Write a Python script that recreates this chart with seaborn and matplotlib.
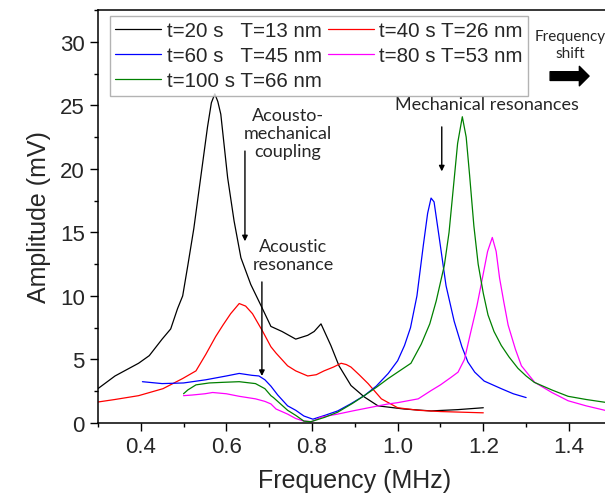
import numpy as np
import pandas as pd
import seaborn as sns
import matplotlib.pyplot as plt
from matplotlib.ticker import MultipleLocator

# values (frequency in MHz, amplitude in mV)
labels = ["t=20 s   T=13 nm", "t=40 s T=26 nm", "t=60 s   T=45 nm",
          "t=80 s T=53 nm", "t=100 s T=66 nm"]
colors = ["black", "#ff0000", "#0000ff", "#ff00ff", "#008000"]

f20 = [0.30, 0.34, 0.395, 0.42, 0.45, 0.47, 0.486, 0.498, 0.51, 0.524, 0.54,
       0.556, 0.565, 0.573, 0.58, 0.587, 0.603, 0.618, 0.634, 0.657, 0.68,
       0.704, 0.73, 0.762, 0.79, 0.805, 0.821, 0.844, 0.863, 0.891, 0.922,
       0.954, 0.978, 1.015, 1.078, 1.14, 1.20]
a20 = [2.7, 3.7, 4.7, 5.3, 6.6, 7.4, 9.0, 10.0, 12.4, 15.3, 19.3,
       23.3, 25.2, 25.9, 25.3, 24.3, 19.3, 15.9, 13.0, 10.9, 9.3,
       7.6, 7.2, 6.6, 6.9, 7.2, 7.8, 6.1, 4.5, 2.95, 2.05,
       1.35, 1.25, 1.1, 0.95, 1.05, 1.2]

f40 = [0.30, 0.34, 0.395, 0.452, 0.498, 0.529, 0.552, 0.575, 0.592, 0.61,
       0.63, 0.645, 0.661, 0.685, 0.704, 0.716, 0.743, 0.762, 0.79, 0.81,
       0.828, 0.85, 0.868, 0.88, 0.891, 0.91, 0.931, 0.962, 1.0, 1.048,
       1.1, 1.15, 1.2]
a40 = [1.65, 1.85, 2.15, 2.7, 3.5, 4.1, 5.4, 6.8, 7.7, 8.6,
       9.4, 9.2, 8.6, 7.2, 6.0, 5.5, 4.5, 4.1, 3.7, 3.8,
       4.1, 4.4, 4.7, 4.6, 4.4, 3.8, 3.1, 1.9, 1.2, 1.0,
       0.9, 0.85, 0.8]

f60 = [0.404, 0.45, 0.50, 0.552, 0.60, 0.63, 0.66, 0.676, 0.69, 0.704,
       0.72, 0.743, 0.762, 0.781, 0.802, 0.83, 0.86, 0.89, 0.922, 0.95,
       0.978, 1.0, 1.016, 1.03, 1.045, 1.06, 1.07, 1.078, 1.085, 1.097,
       1.113, 1.132, 1.15, 1.164, 1.18, 1.202, 1.242, 1.27, 1.30]
a60 = [3.25, 3.1, 3.15, 3.4, 3.7, 3.9, 3.75, 3.7, 3.4, 2.9,
       2.2, 1.35, 1.0, 0.55, 0.3, 0.6, 0.95, 1.5, 2.15, 2.9,
       3.9, 4.9, 6.1, 7.5, 10.0, 14.0, 16.5, 17.7, 17.4, 14.6,
       10.8, 8.0, 6.0, 4.8, 4.0, 3.3, 2.7, 2.3, 2.0]

f80 = [0.50, 0.52, 0.55, 0.568, 0.60, 0.63, 0.668, 0.69, 0.704, 0.716,
       0.743, 0.762, 0.781, 0.80, 0.82, 0.86, 0.895, 0.94, 0.978, 1.0,
       1.048, 1.078, 1.10, 1.125, 1.141, 1.156, 1.171, 1.185, 1.195, 1.21,
       1.221, 1.23, 1.238, 1.248, 1.258, 1.275, 1.289, 1.32, 1.36, 1.398,
       1.44, 1.49]
a80 = [2.15, 2.2, 2.3, 2.4, 2.3, 2.1, 1.9, 1.7, 1.5, 1.1,
       0.7, 0.35, 0.15, 0.1, 0.45, 0.7, 0.95, 1.25, 1.5, 1.6,
       1.9, 2.55, 3.0, 3.6, 4.0, 5.0, 7.2, 9.2, 10.9, 13.5,
       14.6, 13.5, 11.4, 9.5, 7.7, 5.8, 4.5, 3.2, 2.4, 1.75,
       1.35, 0.95]

f100 = [0.50, 0.51, 0.529, 0.56, 0.592, 0.63, 0.668, 0.69, 0.704, 0.71,
        0.743, 0.762, 0.781, 0.797, 0.83, 0.86, 0.895, 0.922, 0.95, 0.978,
        1.0, 1.031, 1.055, 1.075, 1.09, 1.109, 1.12, 1.13, 1.14, 1.151,
        1.16, 1.168, 1.178, 1.188, 1.20, 1.211, 1.225, 1.242, 1.26, 1.281,
        1.30, 1.319, 1.36, 1.398, 1.44, 1.49]
a100 = [2.3, 2.6, 3.0, 3.15, 3.2, 3.25, 3.1, 2.7, 2.15, 2.0,
        1.0, 0.6, 0.15, 0.1, 0.45, 0.85, 1.55, 2.15, 2.8, 3.5,
        4.0, 4.7, 6.2, 7.8, 9.6, 12.4, 15.0, 18.5, 22.0, 24.1,
        22.5, 19.5, 15.5, 12.5, 10.2, 8.5, 7.2, 6.1, 5.2, 4.3,
        3.7, 3.2, 2.6, 2.1, 1.85, 1.6]

freqs = [f20, f40, f60, f80, f100]
amps = [a20, a40, a60, a80, a100]

sns.set_style("ticks")
plt.rcParams['font.family'] = ['Liberation Sans', 'DejaVu Sans']
note_font = ['Lato', 'DejaVu Sans']

fig = plt.figure(figsize=(6.05, 5.02), dpi=100)
ax = fig.add_axes([0.1618, 0.1554, 0.8494, 0.8227])

handles = {}
for lab, col, fx, ay in zip(labels, colors, freqs, amps):
    df = pd.DataFrame({"f": fx, "a": ay})
    sns.lineplot(data=df, x="f", y="a", ax=ax, color=col, lw=0.9,
                 sort=False, estimator=None)
    handles[lab] = ax.lines[-1]

ax.set_xlim(0.3, 1.5)
ax.set_ylim(0, 32.5)
ax.xaxis.set_major_locator(MultipleLocator(0.2))
ax.xaxis.set_minor_locator(MultipleLocator(0.1))
ax.yaxis.set_major_locator(MultipleLocator(5))
ax.yaxis.set_minor_locator(MultipleLocator(2.5))
ax.set_xticks([0.4, 0.6, 0.8, 1.0, 1.2, 1.4])
ax.set_xticklabels(["0.4", "0.6", "0.8", "1.0", "1.2", "1.4"])
ax.tick_params(which='major', direction='out', length=6, width=1,
               labelsize=16, color='black')
ax.tick_params(which='minor', direction='out', length=3, width=1,
               color='black')
for sp in ax.spines.values():
    sp.set_color('black')
    sp.set_linewidth(1.1)

ax.set_xlabel("Frequency (MHz)", fontsize=18, labelpad=8)
ax.set_ylabel("Amplitude (mV)", fontsize=18, labelpad=6)

# legend: column-first order gives the row layout of the reference
order = [labels[0], labels[2], labels[4], labels[1], labels[3]]
leg = ax.legend([handles[k] for k in order], order, ncol=2,
                loc='upper left', bbox_to_anchor=(110 / 605, 1 - 17 / 502),
                bbox_transform=fig.transFigure, fontsize=14.8,
                frameon=True, fancybox=False, edgecolor='#a0a0a0',
                handlelength=2.25, handletextpad=0.25, columnspacing=0.3,
                labelspacing=0.3, borderpad=0.25, borderaxespad=0)
leg.get_frame().set_linewidth(1.0)

# annotations
ax.text(0.744, 22.8, "Acousto-\nmechanical\ncoupling", ha='center', va='center',
        fontsize=13, family=note_font, linespacing=1.15)
ax.annotate('', xy=(0.6434, 14.3), xytext=(0.6434, 21.4),
            arrowprops=dict(arrowstyle='-|>', color='black', lw=1,
                            mutation_scale=8, shrinkA=0, shrinkB=0))
ax.text(0.756, 13.2, "Acoustic\nresonance", ha='center', va='center',
        fontsize=13, family=note_font, linespacing=1.15)
ax.annotate('', xy=(0.683, 3.7), xytext=(0.683, 11.1),
            arrowprops=dict(arrowstyle='-|>', color='black', lw=1,
                            mutation_scale=8, shrinkA=0, shrinkB=0))
ax.text(1.209, 25.1, "Mechanical resonances", ha='center', va='center',
        fontsize=13, family=note_font)
ax.annotate('', xy=(1.103, 19.8), xytext=(1.103, 23.3),
            arrowprops=dict(arrowstyle='-|>', color='black', lw=1,
                            mutation_scale=8, shrinkA=0, shrinkB=0))
ax.text(1.403, 29.8, "Frequency\nshift", ha='center', va='center',
        fontsize=11, family=note_font, linespacing=1.25)
ax.annotate('', xy=(1.447, 27.3), xytext=(1.356, 27.3),
            arrowprops=dict(arrowstyle='simple,head_length=0.5,head_width=1.0,tail_width=0.45',
                            color='black', mutation_scale=14, shrinkA=0, shrinkB=0))

fig.savefig("out.png", dpi=100)
